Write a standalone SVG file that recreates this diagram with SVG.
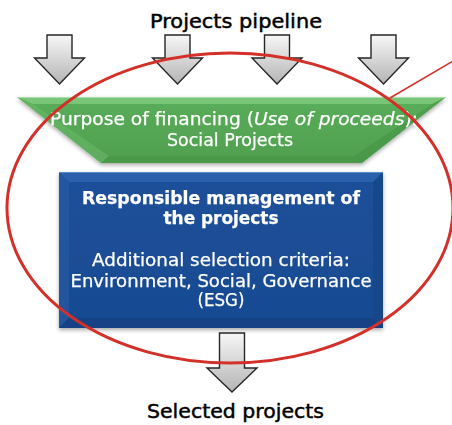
<svg xmlns="http://www.w3.org/2000/svg" width="452" height="425" viewBox="0 0 452 425">
<defs>
<style>
.lbl{font-family:"DejaVu Sans","Liberation Sans",sans-serif;fill:#000;stroke:#000;stroke-width:0.45;text-anchor:middle}
.wt{font-family:"DejaVu Sans","Liberation Sans",sans-serif;fill:#fff;stroke:#fff;stroke-width:0.25;text-anchor:middle}
.arr{fill:url(#ag);stroke:#262626;stroke-width:1.4;stroke-linejoin:miter}
.ring{fill:none;stroke:#d3302a;stroke-width:3}
</style>
<linearGradient id="ag" x1="0" y1="0" x2="0" y2="1">
<stop offset="0" stop-color="#f7f7f7"/>
<stop offset="1" stop-color="#b4b4b4"/>
</linearGradient>
<linearGradient id="gg" x1="0" y1="0" x2="0" y2="1">
<stop offset="0" stop-color="#5aad5a"/>
<stop offset="1" stop-color="#4f9f4f"/>
</linearGradient>
<linearGradient id="bg" x1="0" y1="0" x2="0" y2="1">
<stop offset="0" stop-color="#1c5099"/>
<stop offset="1" stop-color="#184b92"/>
</linearGradient>
<filter id="sh" x="-10%" y="-10%" width="120%" height="130%">
<feGaussianBlur in="SourceAlpha" stdDeviation="2"/>
<feOffset dx="0" dy="2" result="b"/>
<feComponentTransfer><feFuncA type="linear" slope="0.35"/></feComponentTransfer>
<feMerge><feMergeNode/><feMergeNode in="SourceGraphic"/></feMerge>
</filter>
</defs>
<rect width="452" height="425" fill="#fff"/>

<g id="title">
<text class="lbl" x="236" y="28" font-size="19" textLength="172" lengthAdjust="spacingAndGlyphs">Projects pipeline</text>
</g>

<g id="connectors">
<path class="arr" d="M47,35 H72 V58 H84.5 L59.5,84 L34.5,58 H47 Z"/>
<path class="arr" d="M165,35 H190 V58 H202.5 L177.5,84 L152.5,58 H165 Z"/>
<path class="arr" d="M264.5,35 H289.5 V58 H302 L277,84 L252,58 H264.5 Z"/>
<path class="arr" d="M371,35 H396 V58 H408.5 L383.5,84 L358.5,58 H371 Z"/>
<path class="arr" d="M219.5,333 H244.5 V368 H257 L232,392 L207,368 H219.5 Z"/>
</g>

<g id="purpose" filter="url(#sh)">
<polygon points="17,97 446,97 362,163 101,163" fill="url(#gg)"/>
<polygon points="17,97 446,97 432,104 33,104" fill="#86d086" opacity="0.7"/>
<polygon points="17,97 33,104 109,156 101,163" fill="#6cbc6c" opacity="0.5"/>
<polygon points="446,97 362,163 354,156 432,104" fill="#3f8a3f" opacity="0.35"/>
<polygon points="101,163 362,163 354,156 109,156" fill="#3e8a3e" opacity="0.3"/>
<line x1="18" y1="97.5" x2="445" y2="97.5" stroke="#a8e0a8" stroke-width="1"/>
<text class="wt" x="234" y="125" font-size="17" textLength="368" lengthAdjust="spacingAndGlyphs">Purpose of financing (<tspan font-style="italic">Use of proceeds</tspan>):</text>
<text class="wt" x="230" y="146" font-size="17" textLength="126" lengthAdjust="spacingAndGlyphs">Social Projects</text>
</g>

<g id="management" filter="url(#sh)">
<rect x="59" y="172" width="324" height="156" fill="url(#bg)"/>
<polygon points="59,172 383,172 373,182 69,182" fill="#3a70bb" opacity="0.55"/>
<polygon points="59,172 69,182 69,318 59,328" fill="#2a5ea8" opacity="0.5"/>
<polygon points="383,172 383,328 373,318 373,182" fill="#123f80" opacity="0.5"/>
<polygon points="59,328 383,328 373,318 69,318" fill="#0f3b78" opacity="0.5"/>
<line x1="59" y1="172.5" x2="383" y2="172.5" stroke="#5a8ccc" stroke-width="1"/>
<text class="wt" x="221" y="204" font-size="17" font-weight="bold" stroke-width="0" textLength="278" lengthAdjust="spacingAndGlyphs">Responsible management of</text>
<text class="wt" x="221" y="224" font-size="17" font-weight="bold" stroke-width="0" textLength="115" lengthAdjust="spacingAndGlyphs">the projects</text>
<text class="wt" x="221" y="266" font-size="17" textLength="258" lengthAdjust="spacingAndGlyphs">Additional selection criteria:</text>
<text class="wt" x="221" y="287" font-size="17" textLength="301" lengthAdjust="spacingAndGlyphs">Environment, Social, Governance</text>
<text class="wt" x="221" y="306" font-size="17" textLength="47" lengthAdjust="spacingAndGlyphs">(ESG)</text>
</g>

<g id="highlight">
<ellipse class="ring" cx="230" cy="208" rx="223" ry="155"/>
<line x1="390" y1="98" x2="460" y2="57" stroke="#d3302a" stroke-width="1.5"/>
</g>

<g id="result">
<text class="lbl" x="235.5" y="418" font-size="19" textLength="177" lengthAdjust="spacingAndGlyphs">Selected projects</text>
</g>
</svg>
